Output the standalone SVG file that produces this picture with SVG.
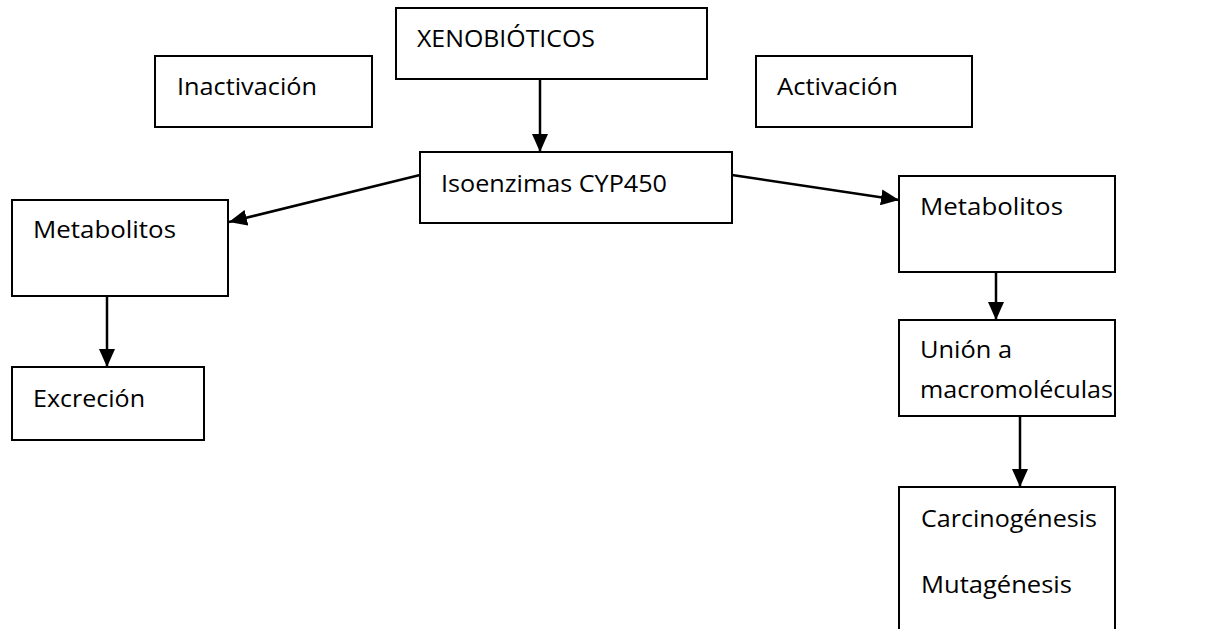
<svg xmlns="http://www.w3.org/2000/svg" width="1212" height="629" viewBox="0 0 1212 629">
<style>
.box{fill:#fff;stroke:#000;stroke-width:2}
.t{font-family:"Open Sans","Noto Sans",sans-serif;font-size:24px;fill:#000}
.c{stroke:#000;stroke-width:2.5;fill:none}
</style>
<defs>
<marker id="ah" markerUnits="userSpaceOnUse" markerWidth="20" markerHeight="16" refX="18" refY="8" orient="auto">
<path d="M0,0 L18,8 L0,16 Z" fill="#000"/>
</marker>
</defs>
<rect width="1212" height="629" fill="#fff"/>
<g id="xenobioticos"><rect class="box" x="396" y="8" width="311" height="71"/><text class="t" x="417" y="47" textLength="178" lengthAdjust="spacingAndGlyphs">XENOBIÓTICOS</text></g>
<g id="inactivacion"><rect class="box" x="155" y="56" width="217" height="71"/><text class="t" x="177" y="95" textLength="140" lengthAdjust="spacingAndGlyphs">Inactivación</text></g>
<g id="activacion"><rect class="box" x="756" y="56" width="216" height="71"/><text class="t" x="777" y="95" textLength="121" lengthAdjust="spacingAndGlyphs">Activación</text></g>
<g id="isoenzimas"><rect class="box" x="420" y="152" width="312" height="71"/><text class="t" x="441" y="192" textLength="226" lengthAdjust="spacingAndGlyphs">Isoenzimas CYP450</text></g>
<g id="metabolitos-izq"><rect class="box" x="12" y="200" width="216" height="96"/><text class="t" x="33" y="238" textLength="143" lengthAdjust="spacingAndGlyphs">Metabolitos</text></g>
<g id="excrecion"><rect class="box" x="12" y="367" width="192" height="73"/><text class="t" x="33" y="407" textLength="112" lengthAdjust="spacingAndGlyphs">Excreción</text></g>
<g id="metabolitos-der"><rect class="box" x="899" y="176" width="216" height="96"/><text class="t" x="920" y="215" textLength="143" lengthAdjust="spacingAndGlyphs">Metabolitos</text></g>
<g id="union"><rect class="box" x="899" y="320" width="216" height="96"/><text class="t" x="920" y="358" textLength="92" lengthAdjust="spacingAndGlyphs">Unión a</text><text class="t" x="920" y="398" textLength="193" lengthAdjust="spacingAndGlyphs">macromoléculas</text></g>
<g id="carcinogenesis"><path class="box" d="M899,629 L899,487 L1115,487 L1115,629" fill="#fff"/><text class="t" x="921" y="527" textLength="176" lengthAdjust="spacingAndGlyphs">Carcinogénesis</text><text class="t" x="921" y="593" textLength="151" lengthAdjust="spacingAndGlyphs">Mutagénesis</text></g>
<g id="connectors">
<line class="c" x1="540" y1="79" x2="540" y2="152" marker-end="url(#ah)"/>
<line class="c" x1="420" y1="175" x2="229" y2="222" marker-end="url(#ah)"/>
<line class="c" x1="107" y1="296" x2="107" y2="367" marker-end="url(#ah)"/>
<line class="c" x1="732" y1="175" x2="899" y2="200" marker-end="url(#ah)"/>
<line class="c" x1="996" y1="272" x2="996" y2="320" marker-end="url(#ah)"/>
<line class="c" x1="1020" y1="416" x2="1020" y2="487" marker-end="url(#ah)"/>
</g>
</svg>
